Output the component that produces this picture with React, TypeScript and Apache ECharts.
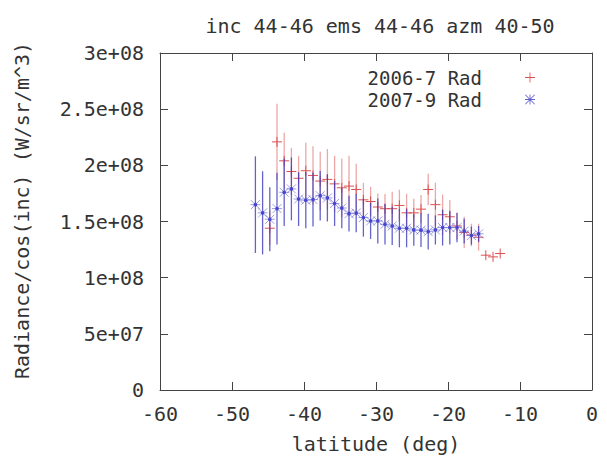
import React, { useEffect, useRef } from 'react';
import * as echarts from 'echarts';

// ---- data ----
const lat2006 = [
  -44.75, -43.75, -42.75, -41.75, -40.75, -39.75, -38.75, -37.75, -36.75, -35.75,
  -34.75, -33.75, -32.75, -31.75, -30.75, -29.75, -28.75, -27.75, -26.75, -25.75,
  -24.75, -23.75, -22.75, -21.75, -20.75, -19.75, -18.75, -17.75, -16.75, -15.75,
  -14.75, -13.75, -12.75,
];
const rad2006 = [
  144e6, 220.9e6, 204e6, 194.5e6, 188.5e6, 195.2e6, 191e6, 186e6, 187.5e6, 183.5e6,
  180e6, 181.5e6, 178.5e6, 169.3e6, 167.8e6, 162.9e6, 161.4e6, 161.4e6, 164.3e6, 157.7e6,
  157.7e6, 161e6, 178.5e6, 165e6, 156e6, 154.2e6, 146e6, 140.3e6, 138e6, 136e6,
  120e6, 118.5e6, 121.5e6,
];
const err2006 = [
  15e6, 34e6, 25e6, 21e6, 20e6, 25e6, 26e6, 26e6, 27e6, 25e6,
  26e6, 27e6, 23e6, 15e6, 13e6, 12e6, 13e6, 15e6, 14e6, 17e6,
  12.5e6, 12.6e6, 14e6, 19.5e6, 18e6, 15e6, 12e6, 14e6, 10e6, 12e6,
  0, 0, 0,
];

const lat2007 = [
  -46.75, -45.75, -44.75, -43.75, -42.75, -41.75, -40.75, -39.75, -38.75, -37.75,
  -36.75, -35.75, -34.75, -33.75, -32.75, -31.75, -30.75, -29.75, -28.75, -27.75,
  -26.75, -25.75, -24.75, -23.75, -22.75, -21.75, -20.75, -19.75, -18.75, -17.75,
  -16.75, -15.75,
];
const rad2007 = [
  165e6, 157.7e6, 152e6, 161.5e6, 176e6, 179e6, 170e6, 169e6, 169.5e6, 173e6,
  171e6, 166e6, 162e6, 157e6, 157.5e6, 153.5e6, 150.5e6, 150.5e6, 147.5e6, 146e6,
  144e6, 144e6, 142.5e6, 142.3e6, 141e6, 142.5e6, 144.6e6, 144.6e6, 144.6e6, 141.5e6,
  137.5e6, 139e6,
];
const err2007 = [
  43e6, 37e6, 28.5e6, 32e6, 30e6, 28e6, 24e6, 25e6, 24e6, 22e6,
  21e6, 20e6, 18e6, 16e6, 17e6, 17e6, 16e6, 20e6, 18e6, 17e6,
  17e6, 17e6, 14e6, 15e6, 16e6, 13e6, 16e6, 15e6, 13e6, 11e6,
  8e6, 7e6,
];

const xTicks = [-60, -50, -40, -30, -20, -10, 0];
const xTickLabels = ['-60', '-50', '-40', '-30', '-20', '-10', '0'];
const yTicks = [0, 5e7, 1e8, 1.5e8, 2e8, 2.5e8, 3e8];
const yTickLabels = ['0', '5e+07', '1e+08', '1.5e+08', '2e+08', '2.5e+08', '3e+08'];

const titleText = 'inc 44-46 ems 44-46 azm 40-50';
const seriesNames = ['2006-7 Rad', '2007-9 Rad'];
const xName = 'latitude (deg)';
const yName = 'Radiance/cos(inc) (W/sr/m^3)';

const FONT = "'DejaVu Sans Mono', monospace";
const FONT_SIZE = 20;
const TEXT_COLOR = '#333';
const AXIS_COLOR = '#444';

const labelFor = (ticks: number[], labels: string[]) => (v: number) => {
  const i = ticks.findIndex((t) => Math.abs(t - v) < 1e-6 * Math.max(1, Math.abs(t)));
  return i >= 0 ? labels[i] : '';
};

const RED_MARK = '#dc5050';
const RED_BAR = 'rgba(220,80,80,0.5)';
const BLUE_MARK = 'rgba(95,95,205,0.6)';
const BLUE_DOT = '#4545d0';
const BLUE_BAR = 'rgba(60,60,190,0.8)';

const PLUS_ICON = 'path://M5.5,0h1v12h-1z M0,5.5h12v1h-12z';
const STAR_ICON =
  'path://M5.5,0h1v12h-1z M0,5.5h12v1h-12z M0.7,0L12,11.3L11.3,12L0,0.7z M11.3,0L12,0.7L0.7,12L0,11.3z';

export default function App() {
  const ref = useRef<HTMLDivElement>(null);

  useEffect(() => {
    if (!ref.current) return;
    const chart = echarts.init(ref.current, undefined, { renderer: 'svg' });

    const data2006 = lat2006.map((x, i) => [x, rad2006[i], err2006[i]]);
    const data2007 = lat2007.map((x, i) => [x, rad2007[i], err2007[i]]);

    const renderRed = (_params: any, api: any) => {
      const x = api.value(0);
      const y = api.value(1);
      const e = api.value(2);
      const p = api.coord([x, y]);
      const children: any[] = [];
      if (e > 0) {
        const lo = api.coord([x, y - e]);
        const hi = api.coord([x, y + e]);
        children.push({
          type: 'line',
          shape: { x1: lo[0], y1: lo[1], x2: hi[0], y2: hi[1] },
          style: { stroke: RED_BAR, lineWidth: 1.3 },
        });
      }
      children.push({
        type: 'line',
        shape: { x1: p[0] - 5, y1: p[1], x2: p[0] + 5, y2: p[1] },
        style: { stroke: RED_MARK, lineWidth: 1 },
      });
      children.push({
        type: 'line',
        shape: { x1: p[0], y1: p[1] - 5, x2: p[0], y2: p[1] + 5 },
        style: { stroke: RED_MARK, lineWidth: 1 },
      });
      return { type: 'group', children };
    };

    const renderBlue = (_params: any, api: any) => {
      const x = api.value(0);
      const y = api.value(1);
      const e = api.value(2);
      const p = api.coord([x, y]);
      const lo = api.coord([x, y - e]);
      const hi = api.coord([x, y + e]);
      const s = 5;
      const d = 4.5;
      return {
        type: 'group',
        children: [
          {
            type: 'line',
            shape: { x1: lo[0], y1: lo[1], x2: hi[0], y2: hi[1] },
            style: { stroke: BLUE_BAR, lineWidth: 1.3 },
          },
          {
            type: 'line',
            shape: { x1: p[0] - s, y1: p[1], x2: p[0] + s, y2: p[1] },
            style: { stroke: BLUE_MARK, lineWidth: 1 },
          },
          {
            type: 'line',
            shape: { x1: p[0] - d, y1: p[1] - d, x2: p[0] + d, y2: p[1] + d },
            style: { stroke: BLUE_MARK, lineWidth: 1 },
          },
          {
            type: 'line',
            shape: { x1: p[0] - d, y1: p[1] + d, x2: p[0] + d, y2: p[1] - d },
            style: { stroke: BLUE_MARK, lineWidth: 1 },
          },
          {
            type: 'circle',
            shape: { cx: p[0], cy: p[1], r: 1.8 },
            style: { fill: BLUE_DOT },
          },
        ],
      };
    };

    const axisLine = { show: true, onZero: false, lineStyle: { color: AXIS_COLOR, width: 1 } };
    const tick = { show: true, inside: true, length: 8, lineStyle: { color: AXIS_COLOR, width: 1 } };
    const labelStyle = { color: TEXT_COLOR, fontFamily: FONT, fontSize: FONT_SIZE };

    chart.setOption({
      animation: false,
      backgroundColor: '#fff',
      title: {
        text: titleText,
        left: 375,
        top: 11,
        textAlign: 'center',
        textStyle: { color: TEXT_COLOR, fontFamily: FONT, fontSize: FONT_SIZE, fontWeight: 'normal' },
      },
      legend: {
        orient: 'vertical',
        right: 67,
        top: 63,
        align: 'right',
        itemWidth: 10,
        itemHeight: 10,
        itemGap: 3,
        textStyle: {
          color: TEXT_COLOR,
          fontFamily: FONT,
          fontSize: 19,
          lineHeight: 18,
          padding: [0, 38, 0, 0],
        },
        data: [
          { name: seriesNames[0], icon: PLUS_ICON },
          { name: seriesNames[1], icon: STAR_ICON },
        ],
      },
      grid: { left: 160, right: 15, top: 53, bottom: 61, containLabel: false },
      xAxis: [
        {
          type: 'value',
          min: -60,
          max: 0,
          interval: 10,
          position: 'bottom',
          axisLine,
          axisTick: tick,
          splitLine: { show: false },
          axisLabel: { ...labelStyle, margin: 14, formatter: labelFor(xTicks, xTickLabels) },
          name: xName,
          nameLocation: 'middle',
          nameGap: 44,
          nameTextStyle: { color: TEXT_COLOR, fontFamily: FONT, fontSize: FONT_SIZE },
        },
        {
          type: 'value',
          min: -60,
          max: 0,
          interval: 10,
          position: 'top',
          axisLine,
          axisTick: tick,
          splitLine: { show: false },
          axisLabel: { show: false },
        },
      ],
      yAxis: [
        {
          type: 'value',
          min: 0,
          max: 3e8,
          interval: 5e7,
          position: 'left',
          axisLine,
          axisTick: tick,
          splitLine: { show: false },
          axisLabel: { ...labelStyle, margin: 16, formatter: labelFor(yTicks, yTickLabels) },
          name: yName,
          nameLocation: 'middle',
          nameGap: 128,
          nameTextStyle: {
            color: TEXT_COLOR,
            fontFamily: FONT,
            fontSize: FONT_SIZE,
            padding: [0, 0, 0, 22],
          },
        },
        {
          type: 'value',
          min: 0,
          max: 3e8,
          interval: 5e7,
          position: 'right',
          axisLine,
          axisTick: tick,
          splitLine: { show: false },
          axisLabel: { show: false },
        },
      ],
      series: [
        {
          name: seriesNames[0],
          type: 'custom',
          renderItem: renderRed,
          encode: { x: 0, y: 1 },
          data: data2006,
          itemStyle: { color: RED_MARK },
          z: 2,
        },
        {
          name: seriesNames[1],
          type: 'custom',
          renderItem: renderBlue,
          encode: { x: 0, y: 1 },
          data: data2007,
          itemStyle: { color: 'rgb(95,95,210)' },
          z: 3,
        },
      ],
    });

    return () => chart.dispose();
  }, []);

  return (
    <div
      ref={ref}
      style={{ position: 'absolute', left: 0, top: 0, width: 607, height: 459, background: '#fff' }}
    />
  );
}
